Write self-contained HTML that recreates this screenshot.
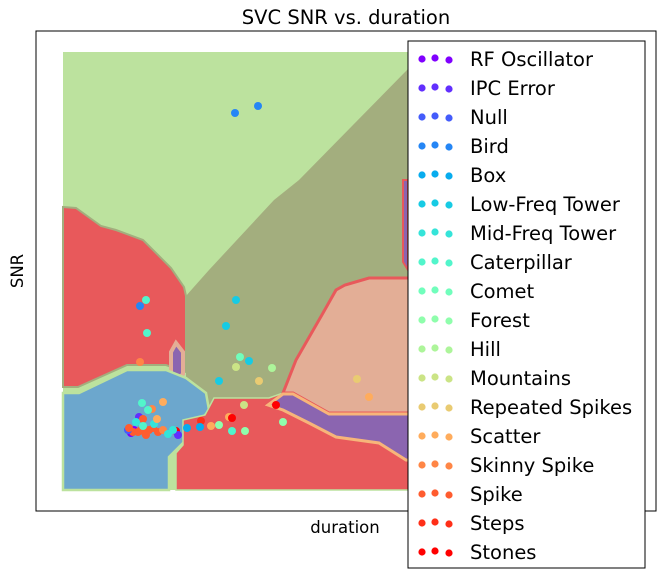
<!DOCTYPE html>
<html><head><meta charset="utf-8"><style>
body{margin:0;background:#fff;}
svg{display:block;font-family:"DejaVu Sans","Liberation Sans",sans-serif;}
</style></head><body>
<svg id="chart" width="664" height="579" viewBox="0 0 664 579">
<rect x="0" y="0" width="664" height="579" fill="#fff"/>
<text x="346" y="24" font-size="19.5" text-anchor="middle" fill="#000">SVC SNR vs. duration</text>
<g id="regions">
<rect x="63" y="52" width="568" height="438" fill="#bce29e"/>
<polygon fill="#a3ae7e" points="631,52 420,52 407,70 299,180 274,200 209,270 193,288 186,296 186,490 631,490"/>
<polygon fill="#e8595b" stroke="#a3ae7e" stroke-width="2" points="63,207 76,208 101,226 116,230 143,240 171,268 184,287 186,296 186,372 166,365 127,365 78,387 63,387"/>
<polygon fill="#8b65b0" stroke="#e3ae96" stroke-width="4" points="176,343 183,352 183,374 177,380 171,374 171,352"/>
<polygon fill="#6ca7cd" stroke="#bce29e" stroke-width="2.5" points="63,393 79,393 127,370 166,370 186,378 206,393 209,410 183,443 169,457 169,490 63,490"/>
<polygon fill="#e8595b" stroke="#bce29e" stroke-width="1.5" points="176,490 176,453 183,445 183,420 205,415 214,398 269,398 283,393 293,393 329,413 631,413 631,490"/>
<polygon fill="#e3ae96" stroke="#e8595b" stroke-width="3" points="283,393 296,360 323,313 336,290 345,285 369,278 631,278 631,413 329,413 293,393"/>
<polygon fill="#8b65b0" stroke="#f7b57a" stroke-width="3" points="268,405 283,394 293,394 329,414 631,414 631,470 406,460 379,443 336,437 309,423 283,410"/>
<polygon fill="#8b65b0" stroke="#e8595b" stroke-width="2" points="403,180 408,180 408,270 403,262"/>
</g>
<g id="points"></g>
<rect x="36" y="31" width="620" height="480" fill="none" stroke="#000" stroke-width="1"/>
<text x="345" y="533" font-size="16.5" text-anchor="middle" fill="#000">duration</text>
<text x="23" y="271" font-size="16.5" text-anchor="middle" fill="#000" transform="rotate(-90 23 271)">SNR</text>
<g id="legend">
<rect x="408" y="41" width="237" height="527" fill="#fff" stroke="#000" stroke-width="1"/>
</g>
</svg>
<script>
const classes=["RF Oscillator","IPC Error","Null","Bird","Box","Low-Freq Tower","Mid-Freq Tower","Caterpillar","Comet","Forest","Hill","Mountains","Repeated Spikes","Scatter","Skinny Spike","Spike","Steps","Stones"];
const durations=[172,195,77,83,84,169,77,173,163,186,156,177,209,173,181,196,294,306,148,166,213,113,169,220,182,156,138,124,137,71,68,115,76,80,89,100,70,75,78,82,86,90,95,100,105,110,73,80,65,79,85,91,66,94,83];
const snrs=[377,384,184,190,157,59,128,190,164,129,109,133,122,123,85,109,111,93,64,73,85,59,72,68,59,65,69,62,63,60,57,55,73,71,81,88,58,58,60,57,60,62,58,60,56,60,68,64,60,87,80,66,62,71,55];
const labels=[3,3,3,7,7,7,14,5,5,5,5,8,10,11,11,12,12,13,13,13,17,17,17,9,9,9,16,4,4,0,0,1,1,15,14,13,15,15,15,15,15,15,15,14,6,6,6,7,2,7,7,6,15,13,15];
const NS="http://www.w3.org/2000/svg";
const xs=v=>63+v; const ys=v=>490-v;
function rainbow(t){const r=Math.min(1,Math.abs(2*t-0.5)),g=Math.sin(Math.PI*t),b=Math.cos(Math.PI*t/2);
return `rgb(${Math.round(r*255)},${Math.round(g*255)},${Math.round(b*255)})`;}
const col=i=>rainbow(i/(classes.length-1));
const pg=document.getElementById('points');
for(let i=0;i<durations.length;i++){
const c=document.createElementNS(NS,'circle');


c.setAttribute('cx',xs(durations[i]));c.setAttribute('cy',ys(snrs[i]));c.setAttribute('r',4);
c.setAttribute('fill',col(labels[i]));pg.appendChild(c);}
const lg=document.getElementById('legend');
classes.forEach((name,i)=>{
const y=59+i*29;
const g=document.createElementNS(NS,'g');


[[422,0],[435,-1],[449,1]].forEach(([x,dy])=>{const c=document.createElementNS(NS,'circle');
c.setAttribute('cx',x);c.setAttribute('cy',y+dy);c.setAttribute('r',3.6);c.setAttribute('fill',col(i));g.appendChild(c);});
const t=document.createElementNS(NS,'text');
t.setAttribute('x',470);t.setAttribute('y',y+7);t.setAttribute('font-size','19.5');t.setAttribute('fill','#000');
t.textContent=name;g.appendChild(t);lg.appendChild(g);});
</script>
</body></html>
